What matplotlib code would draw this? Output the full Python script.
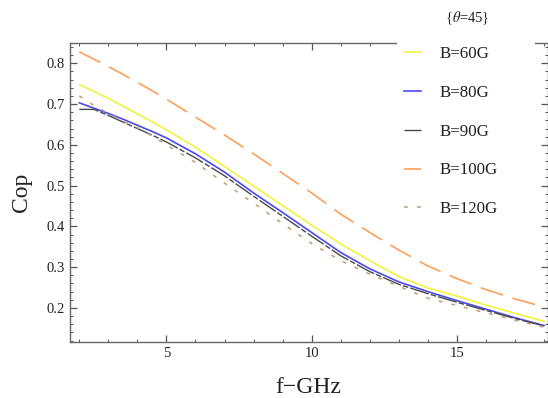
import matplotlib.pyplot as plt
import matplotlib.patches as mpatches
from matplotlib.ticker import MultipleLocator

plt.rcParams['font.family'] = ['Liberation Serif', 'DejaVu Serif']
plt.rcParams['mathtext.fontset'] = 'stix'

# frequency (GHz) and Cop values
f = [2, 2.5, 3, 3.5, 4, 4.5, 5, 6, 7, 8, 9, 10, 11, 12, 13, 14, 15, 16, 17, 18]
cop_60 = [0.748, 0.731, 0.714, 0.695, 0.676, 0.657, 0.637, 0.594, 0.547, 0.499,
          0.451, 0.403, 0.357, 0.316, 0.277, 0.249, 0.229, 0.207, 0.187, 0.167]
cop_80 = [0.703, 0.690, 0.677, 0.663, 0.648, 0.633, 0.617, 0.578, 0.533, 0.482,
          0.434, 0.385, 0.336, 0.296, 0.264, 0.240, 0.218, 0.197, 0.176, 0.157]
cop_90 = [0.687, 0.687, 0.672, 0.656, 0.640, 0.624, 0.607, 0.568, 0.524, 0.474,
          0.425, 0.376, 0.328, 0.289, 0.258, 0.235, 0.214, 0.194, 0.174, 0.156]
cop_100 = [0.828, 0.810, 0.792, 0.773, 0.753, 0.733, 0.712, 0.668, 0.624, 0.578,
           0.530, 0.482, 0.430, 0.385, 0.342, 0.303, 0.272, 0.245, 0.222, 0.2025]
cop_120 = [0.720, 0.697, 0.677, 0.658, 0.642, 0.622, 0.600, 0.557, 0.506, 0.457,
           0.407, 0.358, 0.316, 0.283, 0.253, 0.224, 0.206, 0.188, 0.170, 0.153]
labels = ["B=60G", "B=80G", "B=90G", "B=100G", "B=120G"]

fig = plt.figure(figsize=(5.48, 3.98), dpi=100)
ax = fig.add_axes([69.5 / 548, 56 / 398, 478 / 548, 299.5 / 398])

l1, = ax.plot(f, cop_60, color="#f2f230", lw=1.1)
l2, = ax.plot(f, cop_80, color="#4a4af5", lw=1.2)
l3, = ax.plot(f, cop_90, color="#4a4a4a", lw=1.0, dashes=(14, 1.5, 4, 1.5))
l4, = ax.plot(f, cop_100, color="#ff9f5a", lw=1.2, dashes=(14, 6))
l5, = ax.plot(f, cop_120, color="#c49a78", lw=1.1, dashes=(2.5, 6))

ax.set_xlim(1.662, 18.12)
ax.set_ylim(0.1165, 0.851)
ax.xaxis.set_major_locator(MultipleLocator(5))
ax.xaxis.set_minor_locator(MultipleLocator(1))
ax.yaxis.set_major_locator(MultipleLocator(0.1))
ax.yaxis.set_minor_locator(MultipleLocator(0.02))
ax.tick_params(which="both", direction="in", top=True, right=True,
               color="#555555", labelsize=10.5, labelcolor="#222222")
ax.tick_params(which="major", length=5, width=0.9)
ax.tick_params(which="minor", length=2.5, width=0.7)
for s in ax.spines.values():
    s.set_color("#666666")
    s.set_linewidth(1.0)

ax.set_xlabel("f\u2212GHz", fontsize=17, color="#222222", labelpad=12)
ax.set_ylabel("Cop", fontsize=17, color="#222222", labelpad=10)

# white box behind the legend, like the original
fig.patches.append(mpatches.Rectangle((397 / 548, 172 / 398), 138 / 548, 226 / 398,
                                      transform=fig.transFigure, facecolor="white",
                                      edgecolor="none", zorder=3))
fig.text(467 / 548, 380 / 398, r"{$\theta$=45}", fontsize=10.5, ha="center",
         va="center", color="#222222")
leg = fig.legend([l1, l2, l3, l4, l5], labels, loc="upper left",
                 bbox_to_anchor=(392 / 548, 364 / 398), frameon=False,
                 fontsize=12.2, handlelength=1.0, handletextpad=1.12,
                 labelspacing=1.35, borderpad=0.2)
for t in leg.get_texts():
    t.set_color("#222222")

fig.savefig("out.png", dpi=100)
